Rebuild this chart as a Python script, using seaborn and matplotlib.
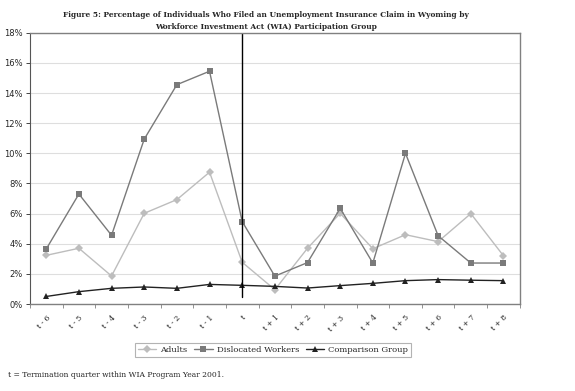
import pandas as pd
import matplotlib.pyplot as plt
import matplotlib.ticker as mticker
import seaborn as sns

quarters = ["t - 6", "t - 5", "t - 4", "t - 3", "t - 2", "t - 1", "t",
            "t + 1", "t + 2", "t + 3", "t + 4", "t + 5", "t + 6", "t + 7", "t + 8"]
adults = [3.23, 3.7, 1.86, 6.02, 6.93, 8.75, 2.77, 0.95, 3.7, 6.02, 3.67, 4.6, 4.14, 6.0, 3.2]
dislocated = [3.65, 7.3, 4.56, 10.94, 14.56, 15.45, 5.47, 1.85, 2.75, 6.35, 2.72, 10.0, 4.53, 2.72, 2.72]
comparison = [0.5, 0.82, 1.04, 1.13, 1.04, 1.3, 1.24, 1.17, 1.06, 1.22, 1.37, 1.55, 1.62, 1.58, 1.55]
groups = ["Adults", "Dislocated Workers", "Comparison Group"]

df = pd.DataFrame({
    "quarter": quarters * 3,
    "pct": adults + dislocated + comparison,
    "group": [g for g in groups for _ in quarters],
})

sns.set_style("white")
plt.rcParams["font.family"] = ["DejaVu Sans"]

fig = plt.figure(figsize=(5.75, 3.91), dpi=100)
ax = fig.add_axes([0.052, 0.2225, 0.852, 0.6935])

ax.yaxis.grid(True, color="#dedede", linewidth=0.8)
ax.set_axisbelow(True)

sns.lineplot(
    data=df, x="quarter", y="pct", hue="group", style="group",
    palette=["#bdbdbd", "#7a7a7a", "#222222"],
    markers=["D", "s", "^"], dashes=False, markersize=4.5,
    markeredgewidth=0, linewidth=1, ax=ax, legend=True,
)

# termination quarter marker line
ax.axvline(quarters.index("t"), ymin=0.025, ymax=1, color="black", linewidth=1)

ax.set_xlim(-0.5, len(quarters) - 0.5)
ax.set_ylim(0, 18)
ax.yaxis.set_major_locator(mticker.MultipleLocator(2))
ax.yaxis.set_major_formatter(mticker.FuncFormatter(lambda v, p: f"{v:.0f}%"))
ax.tick_params(axis="y", labelsize=6, length=3, width=0.6, left=True, pad=2)

ax.set_xticks(range(len(quarters)))
ax.set_xticklabels(quarters, rotation=45, ha="right", rotation_mode="anchor",
                   fontsize=5.5, family="DejaVu Serif")
ax.tick_params(axis="x", length=0, pad=7)
ax.set_xticks([i - 0.5 for i in range(len(quarters) + 1)], minor=True)
ax.tick_params(axis="x", which="minor", length=3, width=0.6, bottom=True, color="#808080")
ax.set_xlabel("")
ax.set_ylabel("")

for side in ["top", "right", "bottom"]:
    ax.spines[side].set_color("#808080")
    ax.spines[side].set_linewidth(1)
ax.spines["left"].set_color("#555555")
ax.spines["left"].set_linewidth(0.8)

handles, labels = ax.get_legend_handles_labels()
ax.get_legend().remove()
leg = fig.legend(handles, labels, loc="center", bbox_to_anchor=(0.475, 0.105), ncol=3,
                 frameon=True, fancybox=False, prop={"family": "DejaVu Serif", "size": 6},
                 handlelength=2.2, handletextpad=0.5, columnspacing=0.8,
                 borderpad=0.35, edgecolor="#a0a0a0")
leg.get_frame().set_linewidth(0.8)

fig.text(0.463, 0.961, "Figure 5: Percentage of Individuals Who Filed an Unemployment Insurance Claim in Wyoming by",
         ha="center", va="center", fontsize=5.4, fontweight="bold", family="DejaVu Serif")
fig.text(0.463, 0.931, "Workforce Investment Act (WIA) Participation Group",
         ha="center", va="center", fontsize=5.4, fontweight="bold", family="DejaVu Serif")
fig.text(0.014, 0.04, "t = Termination quarter within WIA Program Year 2001.",
         ha="left", va="center", fontsize=5.5, family="DejaVu Serif")

fig.savefig("out.png", dpi=100, facecolor="white")
